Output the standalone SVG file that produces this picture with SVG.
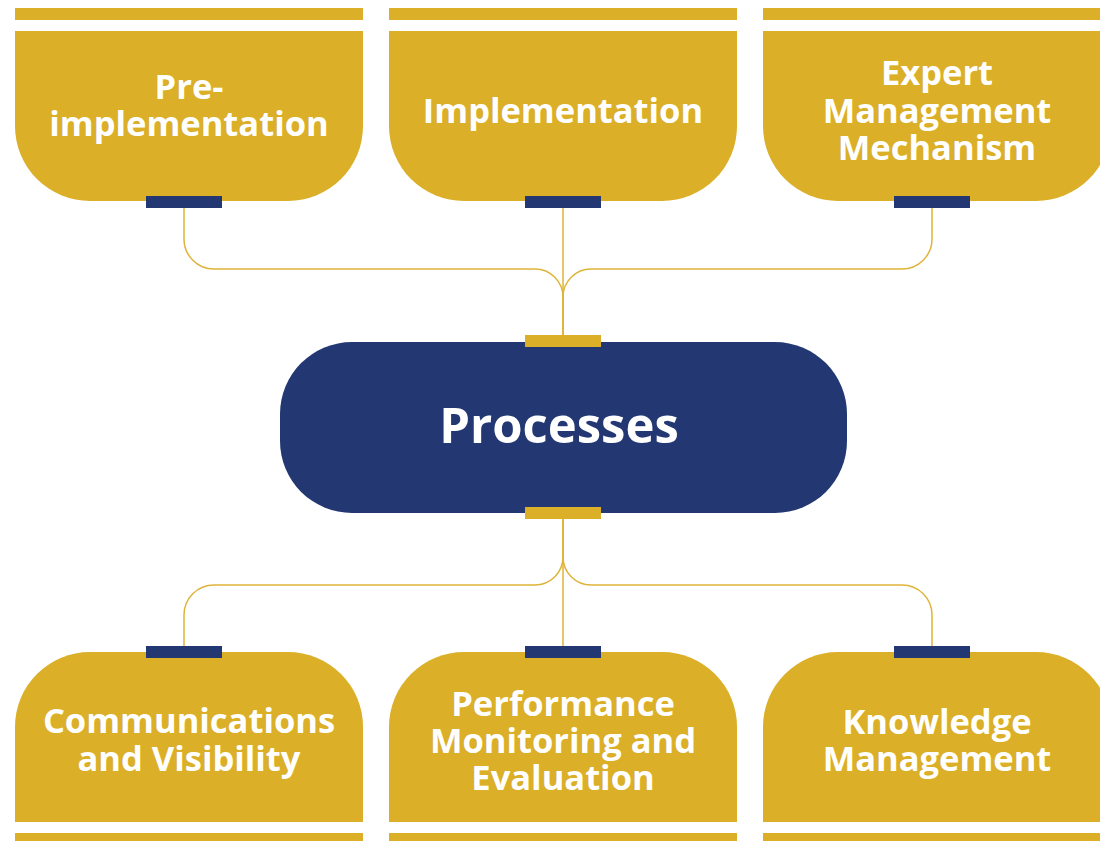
<svg xmlns="http://www.w3.org/2000/svg" width="1100" height="841" viewBox="0 0 1100 841">
  <style>
    .gold { fill: #DBAF27; }
    .navy { fill: #233873; }
    .conn { fill: none; stroke: #DFB43A; stroke-width: 1.5; }
    .lbl { font-family: "Open Sans", "Noto Sans", "Liberation Sans", sans-serif; font-weight: 700; font-size: 34.5px; fill: #FFFFFF; text-anchor: middle; }
    .big { font-size: 49px; }
  </style>
  <rect width="1100" height="841" fill="#FFFFFF"/>

  <g id="connectors">
    <path class="conn" d="M184 208 V239 A30 30 0 0 0 214 269 H535 A28 28 0 0 1 563 297 V335"/>
    <path class="conn" d="M563 208 V335"/>
    <path class="conn" d="M932 208 V239 A30 30 0 0 1 902 269 H591 A28 28 0 0 0 563 297 V335"/>
    <path class="conn" d="M563 519 V557 A28 28 0 0 1 535 585 H214 A30 30 0 0 0 184 615 V646"/>
    <path class="conn" d="M563 519 V646"/>
    <path class="conn" d="M563 519 V557 A28 28 0 0 0 591 585 H902 A30 30 0 0 1 932 615 V646"/>
  </g>

  <g id="pre-implementation">
    <rect class="gold" x="15" y="8" width="348" height="12"/>
    <path class="gold" d="M15 31 H363 V126 A75 75 0 0 1 288 201 H90 A75 75 0 0 1 15 126 Z"/>
    <rect class="navy" x="146" y="196" width="76" height="12"/>
    <text class="lbl" x="189" y="99">Pre-<tspan x="189" dy="37">implementation</tspan></text>
  </g>

  <g id="implementation">
    <rect class="gold" x="389" y="8" width="348" height="12"/>
    <path class="gold" d="M389 31 H737 V126 A75 75 0 0 1 662 201 H464 A75 75 0 0 1 389 126 Z"/>
    <rect class="navy" x="525" y="196" width="76" height="12"/>
    <text class="lbl" x="563" y="123">Implementation</text>
  </g>

  <g id="expert-management">
    <rect class="gold" x="763" y="8" width="348" height="12"/>
    <path class="gold" d="M763 31 H1111 V126 A75 75 0 0 1 1036 201 H838 A75 75 0 0 1 763 126 Z"/>
    <rect class="navy" x="894" y="196" width="76" height="12"/>
    <text class="lbl" x="937" y="85">Expert<tspan x="937" dy="37.5">Management</tspan><tspan x="937" dy="37.5">Mechanism</tspan></text>
  </g>

  <g id="processes">
    <rect class="navy" x="280" y="342" width="567" height="171" rx="72" ry="72"/>
    <rect class="gold" x="525" y="335" width="76" height="12"/>
    <rect class="gold" x="525" y="507" width="76" height="12"/>
    <text class="lbl big" x="559" y="443">Processes</text>
  </g>

  <g id="communications">
    <rect class="gold" x="15" y="833" width="348" height="12"/>
    <path class="gold" d="M15 822 V727 A75 75 0 0 1 90 652 H288 A75 75 0 0 1 363 727 V822 Z"/>
    <rect class="navy" x="146" y="646" width="76" height="12"/>
    <text class="lbl" x="189" y="733">Communications<tspan x="189" dy="38">and Visibility</tspan></text>
  </g>

  <g id="performance">
    <rect class="gold" x="389" y="833" width="348" height="12"/>
    <path class="gold" d="M389 822 V727 A75 75 0 0 1 464 652 H662 A75 75 0 0 1 737 727 V822 Z"/>
    <rect class="navy" x="525" y="646" width="76" height="12"/>
    <text class="lbl" x="563" y="716">Performance<tspan x="563" dy="37">Monitoring and</tspan><tspan x="563" dy="37">Evaluation</tspan></text>
  </g>

  <g id="knowledge">
    <rect class="gold" x="763" y="833" width="348" height="12"/>
    <path class="gold" d="M763 822 V727 A75 75 0 0 1 838 652 H1036 A75 75 0 0 1 1111 727 V822 Z"/>
    <rect class="navy" x="894" y="646" width="76" height="12"/>
    <text class="lbl" x="937" y="734">Knowledge<tspan x="937" dy="37">Management</tspan></text>
  </g>
</svg>
